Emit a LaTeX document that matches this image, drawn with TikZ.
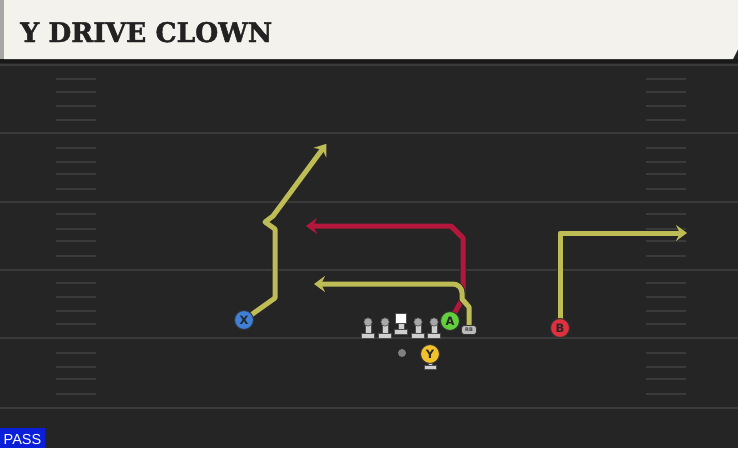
\documentclass[tikz,border=0pt]{standalone}
\usepackage{fontspec}
\setmainfont{DejaVu Sans}
\newfontfamily\titlefont{DejaVu Serif}[BoldFeatures={FakeBold=1.6}]
\newfontfamily\passfont{Liberation Sans}
\usetikzlibrary{arrows.meta}
\definecolor{fieldbg}{HTML}{252525}
\definecolor{yardln}{HTML}{3A3A3A}
\definecolor{hdr}{HTML}{F4F2EC}
\definecolor{ttl}{HTML}{222222}
\definecolor{yroute}{HTML}{BDBC55}
\definecolor{rroute}{HTML}{B3173B}
\definecolor{xblue}{HTML}{3E7FD8}
\definecolor{agreen}{HTML}{62D03C}
\definecolor{bred}{HTML}{E0303E}
\definecolor{yyel}{HTML}{F2C22C}
\definecolor{lbody}{HTML}{CFCFCF}
\definecolor{lhead}{HTML}{A8A8A8}
\definecolor{passblue}{HTML}{0B1FD8}
\pgfdeclarelayer{field}
\pgfdeclarelayer{routes}
\pgfsetlayers{field,routes,main}
\tikzset{
  yard/.style={draw=yardln, line width=2pt},
  hashm/.style={draw=yardln, line width=1.6pt},
  routeline/.style={line width=5pt, line join=round, line cap=round},
  tipped/.style={-{Stealth[length=11pt,width=16pt,inset=4pt]}, shorten >=1pt},
  outl/.style={draw=black!85, line width=6.8pt, -{Stealth[length=12.5pt,width=18.5pt,inset=4.6pt]}, shorten >=0pt},
  player/.style={circle, minimum size=19pt, inner sep=0pt, draw=black!80, line width=1pt,
    text=black!85, font=\bfseries\fontsize{11.5}{11.5}\selectfont},
  lineman/.pic={
    \filldraw[fill=lbody, draw=black!70, line width=0.6pt] (-2.8,0) rectangle (2.8,12);
    \filldraw[fill=lbody, draw=black!70, line width=0.6pt] (-6.5,11) rectangle (6.5,16);
    \filldraw[fill=lhead, draw=black!70, line width=0.6pt] (0,0) circle (4.2);
  }
}
\newcommand\myroute[2]{\draw[routeline,#1,outl] #2; \draw[routeline,#1] #2;}
\begin{document}
\begin{tikzpicture}[x=1pt,y=-1pt]
\useasboundingbox (0,0) rectangle (738,448);
\begin{pgfonlayer}{field}
\fill[fieldbg] (0,0) rectangle (738,448);
% header
\fill[black!90] (0,59) rectangle (738,63);
\fill[hdr] (4,0) -- (738,0) -- (738,49) -- (733,59) -- (4,59) -- cycle;
\fill[black!35] (0,0) rectangle (4,59);
% yard lines
\foreach \yy in {65,133,202,270,338,408} \draw[yard] (0,\yy) -- (738,\yy);
% hash marks
\foreach \yy in {79,92,106,120,148,162,174,189,214,229,241,256,283,297,311,324,353,367,379,394}{
  \draw[hashm] (56,\yy) -- (96,\yy);
  \draw[hashm] (646,\yy) -- (686,\yy);
}
\end{pgfonlayer}
% title
\node[anchor=base west, inner sep=0pt, text=ttl, xscale=0.98, font=\titlefont\bfseries\fontsize{27}{27}\selectfont] (title) at (20,42) {Y DRIVE CLOWN};
% players
\node[player, fill=xblue] (X) at (244,320) {X};
\node[player, fill=agreen] (A) at (450,321) {A};
\node[player, fill=bred] (B) at (560,328) {B};
\node[player, fill=yyel] (Y) at (430,354) {Y};
\filldraw[fill=lbody, draw=black!70, line width=0.6pt] (428,363) rectangle (432,366);
\filldraw[fill=lbody, draw=black!70, line width=0.6pt] (424,365) rectangle (436,369);
\node[draw=black!80, fill=lbody!90!black, line width=0.6pt, rounded corners=3pt, minimum width=15pt, minimum height=9pt, inner sep=0pt, text=black!75, font=\bfseries\fontsize{5}{5}\selectfont] (RB) at (469,330) {RB};
% line
\pic at (368,322) {lineman};
\pic at (385,322) {lineman};
\pic at (418,322) {lineman};
\pic at (434,322) {lineman};
\filldraw[fill=lbody, draw=black!70, line width=0.6pt] (398.2,323) rectangle (403.8,330);
\filldraw[fill=lbody, draw=black!70, line width=0.6pt] (394.5,329) rectangle (407.5,334);
\node[draw=black!70, fill=white, line width=0.6pt, minimum size=10.5pt, inner sep=0pt] (C) at (401,318.5) {};
\node[circle, fill=black!50, minimum size=8pt, inner sep=0pt] (QB) at (402,353) {};
% routes
\coordinate (xend) at (327,143);
\coordinate (aend) at (305,226);
\coordinate (rbend) at (313,284);
\coordinate (bend) at (688,233);
\begin{pgfonlayer}{routes}
\myroute{draw=yroute,tipped}{(X.center) -- (275,298) -- (275,229) -- (265,222) -- (273,216) -- (xend)}
\myroute{draw=rroute,tipped}{(A.center) -- (463,298) -- (463,238) -- (451,226) -- (aend)}
\myroute{draw=yroute,tipped}{(RB.center) -- (469,307) -- (462,299) [rounded corners=9pt] -- (462,284) -- (rbend)}
\myroute{draw=yroute,tipped}{(B.center) -- (560,233) -- (bend)}
\end{pgfonlayer}
% pass label
\fill[passblue] (0,428) rectangle (45,448);
\node[anchor=base, inner sep=0pt, text=white, font=\passfont\fontsize{14.5}{14.5}\selectfont] (pass) at (22.5,444.5) {PASS};
\end{tikzpicture}
\end{document}
